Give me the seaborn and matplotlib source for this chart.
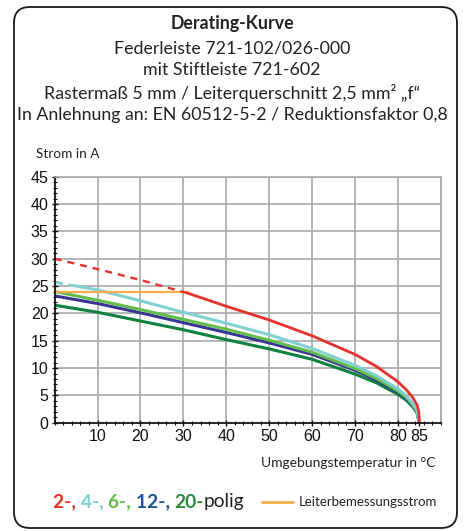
import matplotlib
matplotlib.use("Agg")
import matplotlib.pyplot as plt
import seaborn as sns
import pandas as pd
from matplotlib.patches import FancyBboxPatch
from matplotlib.ticker import MultipleLocator

# --- data ---
temps = [0, 10, 20, 30, 40, 50, 60, 70, 75, 80, 82, 83.5, 84.5, 85]
strom_6 = [24.0, 22.4, 20.7, 18.9, 17.1, 15.1, 12.9, 9.9, 8.1, 5.8, 4.6, 3.3, 2.0, 0]
strom_12 = [23.2, 21.8, 20.1, 18.3, 16.5, 14.6, 12.5, 9.6, 7.8, 5.6, 4.4, 3.2, 1.9, 0]
strom_20 = [21.5, 20.2, 18.6, 17.0, 15.2, 13.5, 11.6, 8.9, 7.3, 5.2, 4.1, 2.9, 1.8, 0]

temps_4 = [5, 10, 20, 30, 40, 50, 60, 70, 75, 80, 82, 83.5, 84.5, 85]
strom_4 = [25.0, 24.3, 22.3, 20.2, 18.2, 16.1, 13.6, 10.5, 8.6, 6.2, 4.9, 3.5, 2.2, 0]
temps_4_dash = [0, 5]
strom_4_dash = [25.7, 25.0]

temps_2 = [31, 40, 50, 60, 70, 75, 80, 82, 83.5, 84.5, 84.9, 85]
strom_2 = [23.7, 21.3, 18.8, 15.9, 12.5, 10.3, 7.5, 6.0, 4.6, 3.2, 2.0, 0]
temps_2_dash = [0, 10, 20, 31]
strom_2_dash = [30.0, 28.1, 26.1, 23.7]

temps_nenn = [0, 31]
strom_nenn = [24, 24]

xticks = [10, 20, 30, 40, 50, 60, 70, 80, 85]
yticks = [0, 5, 10, 15, 20, 25, 30, 35, 40, 45]

RED = "#e8302a"
CYAN = "#80d0d2"
GREEN = "#62bd4b"
BLUE = "#3a3592"
DKGREEN = "#0f8040"
ORANGE = "#f6ac4c"

sns.set_theme(style="white")
plt.rcParams['font.family'] = ['Lato', 'DejaVu Sans']

fig = plt.figure(figsize=(4.65, 5.31), dpi=100)

# background axes in pixel units for frame and texts
bg = fig.add_axes([0, 0, 1, 1])
bg.set_xlim(0, 465)
bg.set_ylim(531, 0)
bg.axis("off")
bg.add_patch(FancyBboxPatch((14, 7), 443, 521, boxstyle="round,pad=0,rounding_size=16",
                            fc="white", ec="#1a1a1a", lw=1.3))

txt = "#222222"
bg.text(232, 23, "Derating-Kurve", ha="center", va="center", fontsize=12.8,
        fontweight="bold", color=txt)
bg.text(232, 48, "Federleiste 721-102/026-000", ha="center", va="center", fontsize=12.8, color=txt)
bg.text(232, 70, "mit Stiftleiste 721-602", ha="center", va="center", fontsize=12.8, color=txt)
bg.text(232, 93, "Rastermaß 5 mm / Leiterquerschnitt 2,5 mm² „f“", ha="center", va="center",
        fontsize=12.8, color=txt)
bg.text(232, 115, "In Anlehnung an: EN 60512-5-2 / Reduktionsfaktor 0,8", ha="center",
        va="center", fontsize=12.8, color=txt)
bg.text(36, 154, "Strom in A", ha="left", va="center", fontsize=9.8, color=txt)
bg.text(435, 463, "Umgebungstemperatur in °C", ha="right", va="center", fontsize=10, color=txt)

# --- plot axes ---
ax = fig.add_axes([54.7 / 465, (531 - 422.7) / 531, 386 / 465, 246 / 531])
ax.set_facecolor("none")
ax.set_xlim(0, 90)
ax.set_ylim(0, 45)

for gx in range(10, 91, 10):
    ax.axvline(gx, color="#a8a8a8", lw=1.2, zorder=0)
for gy in range(5, 46, 5):
    ax.axhline(gy, color="#a8a8a8", lw=1.2, zorder=0)

sns.lineplot(x=temps, y=strom_20, ax=ax, color=DKGREEN, lw=2.2, estimator=None, sort=False)
sns.lineplot(x=temps, y=strom_12, ax=ax, color=BLUE, lw=2.2, estimator=None, sort=False)
sns.lineplot(x=temps, y=strom_6, ax=ax, color=GREEN, lw=2.2, estimator=None, sort=False)
sns.lineplot(x=temps_4, y=strom_4, ax=ax, color=CYAN, lw=2.2, estimator=None, sort=False)
sns.lineplot(x=temps_4_dash, y=strom_4_dash, ax=ax, color=CYAN, lw=2.0, linestyle=(0, (3, 2)),
             estimator=None, sort=False)
sns.lineplot(x=temps_nenn, y=strom_nenn, ax=ax, color=ORANGE, lw=1.6, estimator=None, sort=False)
sns.lineplot(x=temps_2_dash, y=strom_2_dash, ax=ax, color=RED, lw=1.7, linestyle=(0, (3, 2.5)),
             estimator=None, sort=False)
sns.lineplot(x=temps_2, y=strom_2, ax=ax, color=RED, lw=2.0, estimator=None, sort=False)

for side in ["top", "right"]:
    ax.spines[side].set_color("#a8a8a8")
    ax.spines[side].set_linewidth(1.2)
for side in ["left", "bottom"]:
    ax.spines[side].set_color("#111111")
    ax.spines[side].set_linewidth(1.3)

ax.set_xticks(xticks)
ax.set_yticks(yticks)
ax.xaxis.set_minor_locator(MultipleLocator(2))
ax.yaxis.set_minor_locator(MultipleLocator(1))
ax.tick_params(axis="both", which="major", direction="inout", length=5, width=1, color="#111111",
               labelsize=11.5, labelcolor="#111111", pad=2)
ax.tick_params(axis="both", which="minor", direction="inout", length=3, width=0.8, color="#111111")
ax.tick_params(left=True, bottom=True, which="both")
for lab in ax.get_xticklabels() + ax.get_yticklabels():
    lab.set_family(["Liberation Sans", "DejaVu Sans"])
ax.set_xlabel("")
ax.set_ylabel("")

# --- legend line at the bottom ---
renderer = fig.canvas.get_renderer()
pieces = [("2-, ", RED, "bold"), ("4-, ", CYAN, "bold"), ("6-, ", GREEN, "bold"),
          ("12-, ", "#1f4e9b", "bold"), ("20-", "#2a8a3c", "bold"), ("polig", txt, "normal")]
x = 53
for s, c, w in pieces:
    t = bg.text(x, 502, s, ha="left", va="center", fontsize=13.8, fontweight=w, color=c)
    bb = t.get_window_extent(renderer)
    x += bb.width
bg.plot([262, 293], [502, 502], color=ORANGE, lw=2)
bg.text(299, 502, "Leiterbemessungsstrom", ha="left", va="center", fontsize=9.5, color=txt)

fig.savefig("out.png", dpi=100)
